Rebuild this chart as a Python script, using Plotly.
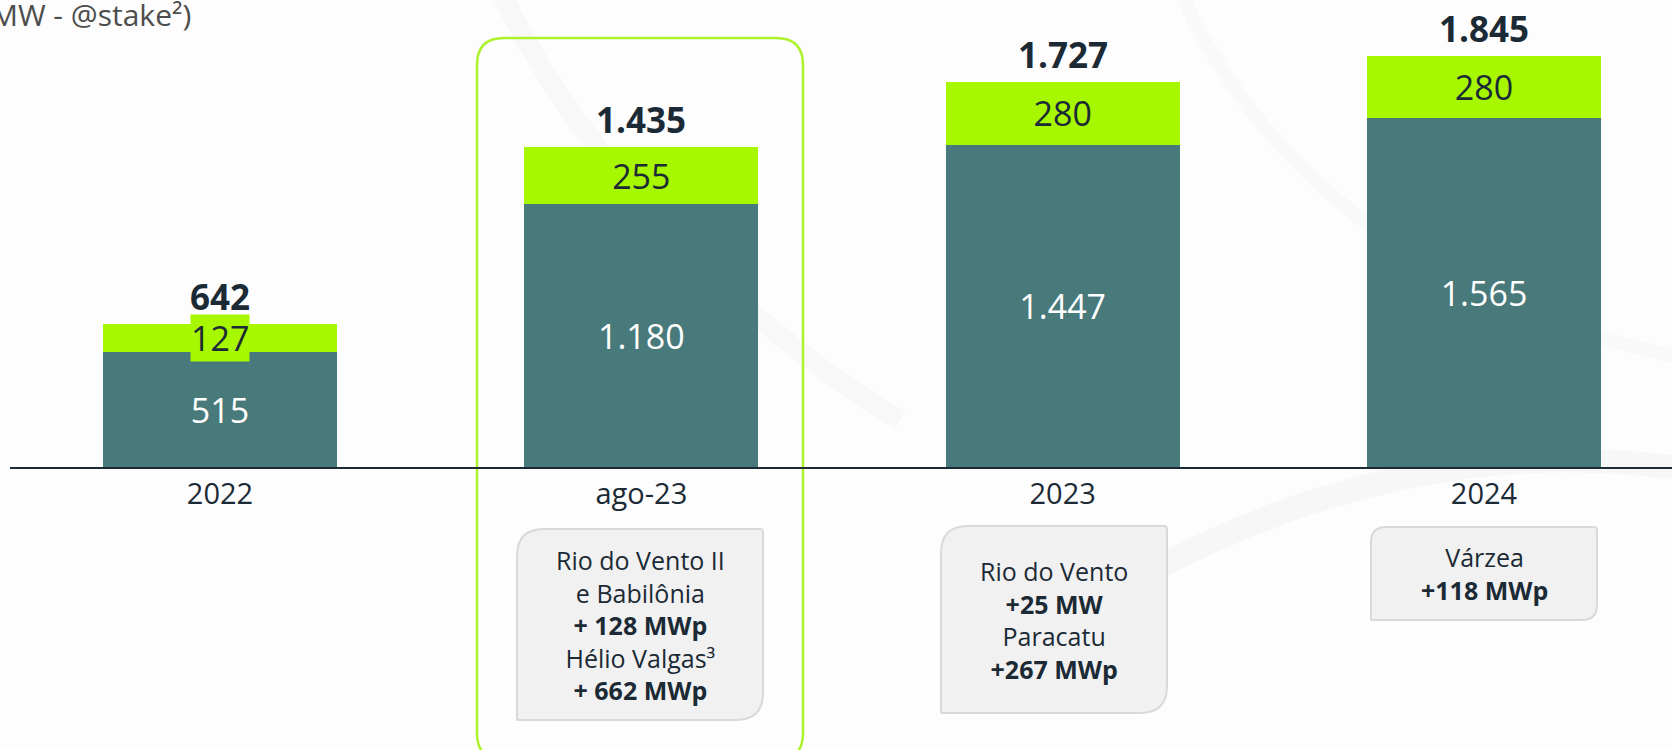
import plotly.graph_objects as go

# ---------------- data ----------------
categories = ["2022", "ago-23", "2023", "2024"]
base_mw = [515, 1180, 1447, 1565]
added_mw = [127, 255, 280, 280]
totals = [b + a for b, a in zip(base_mw, added_mw)]
notes = [
    "",
    "Rio do Vento II<br>e Babilônia<br><b>+ 128 MWp</b><br>Hélio Valgas³<br><b>+ 662 MWp</b>",
    "Rio do Vento<br><b>+25 MW</b><br>Paracatu<br><b>+267 MWp</b>",
    "Várzea<br><b>+118 MWp</b>",
]
title_text = "Capacidade Instalada (MW - @stake²)"

# ---------------- style ----------------
W, H = 1672, 750
TEAL = "#48797B"
GREEN = "#A6F700"
DARK = "#1B2A35"
FONT = "Open Sans"

X0_PX = 10            # left end of the baseline
AXIS_Y_PX = 467       # baseline pixel row
TOP_Y_PX = 56         # top of tallest bar
PPU = 421.33          # pixels per category step
FIRST_CENTER = 220

k = (AXIS_Y_PX - TOP_Y_PX) / max(totals)
y_max = AXIS_Y_PX / k
x_lo = -(FIRST_CENTER - X0_PX) / PPU
x_hi = x_lo + (W - X0_PX) / PPU


def px(x):
    return x / W


def py(y):
    return 1 - y / H


def rounded_path(x0, y0, x1, y1, r_tl, r_tr, r_br, r_bl):
    pts = []
    pts.append(f"M {px(x0)},{py(y0 + r_tl)}")
    pts.append(f"Q {px(x0)},{py(y0)} {px(x0 + r_tl)},{py(y0)}")
    pts.append(f"L {px(x1 - r_tr)},{py(y0)}")
    pts.append(f"Q {px(x1)},{py(y0)} {px(x1)},{py(y0 + r_tr)}")
    pts.append(f"L {px(x1)},{py(y1 - r_br)}")
    pts.append(f"Q {px(x1)},{py(y1)} {px(x1 - r_br)},{py(y1)}")
    pts.append(f"L {px(x0 + r_bl)},{py(y1)}")
    pts.append(f"Q {px(x0)},{py(y1)} {px(x0)},{py(y1 - r_bl)}")
    pts.append("Z")
    return " ".join(pts)


def curve(p0, c1, c2, p1):
    return (f"M {px(p0[0])},{py(p0[1])} C {px(c1[0])},{py(c1[1])} "
            f"{px(c2[0])},{py(c2[1])} {px(p1[0])},{py(p1[1])}")


fig = go.Figure()

# very faint decorative background swooshes
fig.add_shape(type="path", xref="paper", yref="paper", layer="below",
              path=curve((500, -10), (560, 120), (700, 300), (900, 420)),
              line=dict(color="#F8F8F8", width=20))
fig.add_shape(type="path", xref="paper", yref="paper", layer="below",
              path=curve((1100, 600), (1300, 480), (1500, 440), (1690, 470)),
              line=dict(color="#F7F7F7", width=24))
fig.add_shape(type="path", xref="paper", yref="paper", layer="below",
              path=curve((1180, -10), (1250, 150), (1400, 300), (1690, 360)),
              line=dict(color="#F9F9F9", width=14))

fig.add_trace(go.Bar(
    x=categories, y=base_mw, marker=dict(color=TEAL, line=dict(width=0)),
    width=0.556, texttemplate="%{y:,.0f}", textposition="inside",
    insidetextanchor="middle",
    textfont=dict(family=FONT, size=34, color="white"), hoverinfo="skip",
))

green_text = ["" if i == 0 else f"{v}" for i, v in enumerate(added_mw)]
fig.add_trace(go.Bar(
    x=categories, y=added_mw, marker=dict(color=GREEN, line=dict(width=0)),
    width=0.556, text=green_text, textposition="inside",
    insidetextanchor="middle",
    textfont=dict(family=FONT, size=34, color=DARK), hoverinfo="skip",
))

# label of the thin first green segment, with its own green background
fig.add_annotation(
    x=0, y=base_mw[0] + added_mw[0] / 2, xref="x", yref="y",
    text=f"{added_mw[0]}", showarrow=False, bgcolor=GREEN, borderpad=0,
    font=dict(family=FONT, size=34, color=DARK), yanchor="middle",
)

# totals
for i, t in enumerate(totals):
    fig.add_annotation(
        x=i, y=t, xref="x", yref="y", text="<b>" + f"{t:,}".replace(",", ".") + "</b>",
        showarrow=False, yanchor="bottom", yshift=2,
        font=dict(family=FONT, size=35, color=DARK),
    )

# highlight frame around ago-23
fig.add_shape(type="path", xref="paper", yref="paper",
              path=rounded_path(477, 38, 803, 760, 27, 27, 27, 27),
              line=dict(color="#ADF22A", width=2.5), fillcolor="rgba(0,0,0,0)",
              layer="below")

# note boxes
boxes = {1: (517, 529, 763, 720, 27), 2: (941, 526, 1167, 713, 27), 3: (1371, 527, 1597, 620, 15)}
for i, (bx0, by0, bx1, by1, r) in boxes.items():
    fig.add_shape(type="path", xref="paper", yref="paper",
                  path=rounded_path(bx0, by0, bx1, by1, r, 3, r, 1),
                  line=dict(color="#D9D9D9", width=2), fillcolor="#F1F1F1",
                  layer="below")
    fig.add_annotation(
        x=px((bx0 + bx1) / 2), y=py((by0 + by1) / 2), xref="paper", yref="paper",
        text=notes[i], showarrow=False, xanchor="center", yanchor="middle",
        align="center", font=dict(family=FONT, size=25, color=DARK),
    )

# cut-off title in the top-left corner
fig.add_annotation(
    x=px(193), y=py(14), xref="paper", yref="paper", text=title_text,
    showarrow=False, xanchor="right", yanchor="middle",
    font=dict(family=FONT, size=30, color="#4D4D4D"),
)

fig.update_layout(
    width=W, height=H, barmode="stack", showlegend=False,
    margin=dict(l=0, r=0, t=0, b=0, pad=0),
    paper_bgcolor="#FDFDFD", plot_bgcolor="rgba(0,0,0,0)",
    separators=",.",
    uniformtext=dict(minsize=34, mode="show"),
    xaxis=dict(
        domain=[px(X0_PX), 1], range=[x_lo, x_hi], type="category",
        showline=True, linecolor=DARK, linewidth=2, showgrid=False,
        zeroline=False, ticks="",
        tickfont=dict(family=FONT, size=29, color=DARK), fixedrange=True,
    ),
    yaxis=dict(
        domain=[1 - AXIS_Y_PX / H, 1], range=[0, y_max], visible=False,
        showgrid=False, zeroline=False, fixedrange=True,
    ),
)

fig.write_html("out.html", config={"displayModeBar": False},
               post_script="document.body.style.margin='0';")
